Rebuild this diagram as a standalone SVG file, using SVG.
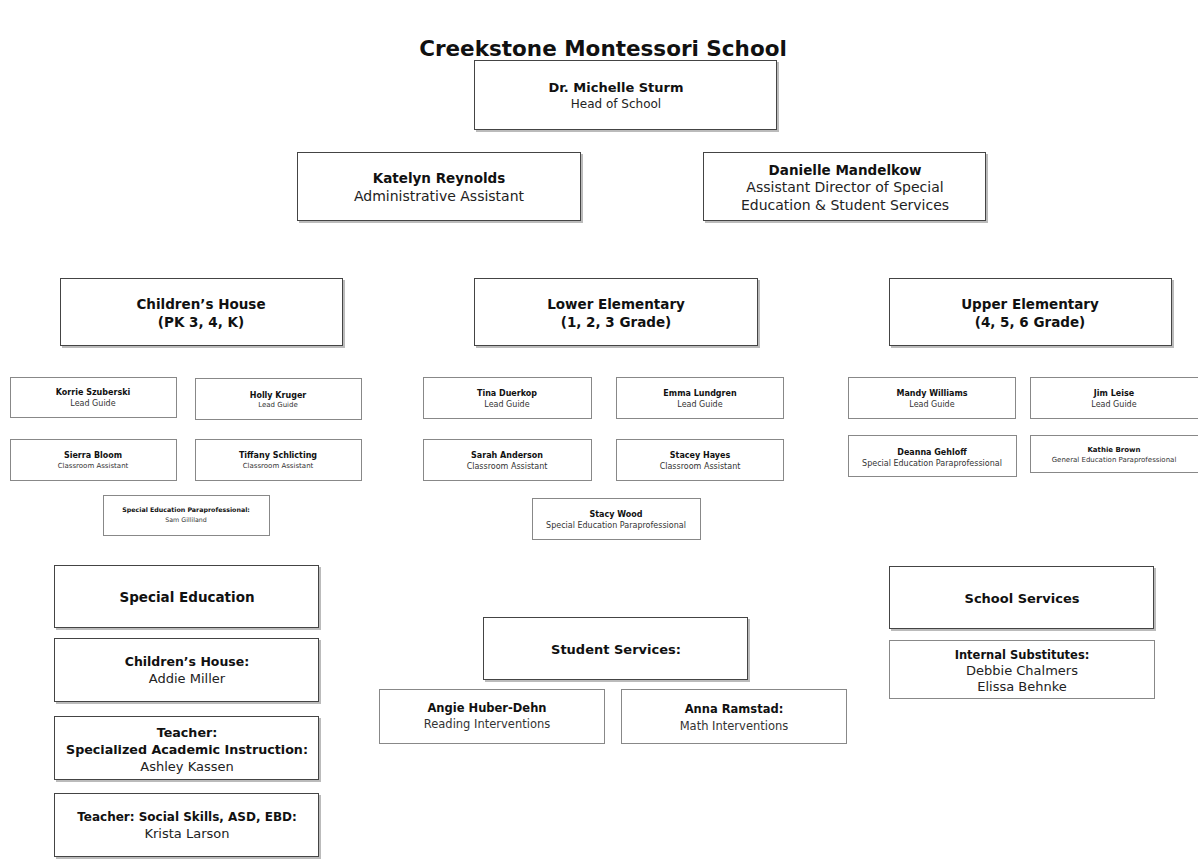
<svg xmlns="http://www.w3.org/2000/svg" width="1198" height="859" viewBox="0 0 1198 859">
<style>
text{font-family:"DejaVu Sans","Lato",sans-serif;fill:#111;text-anchor:middle}
.box{fill:#fff;stroke:#444;stroke-width:1}
.sbox{fill:#fff;stroke:#888;stroke-width:1}
.sh{fill:#bbb}
.t{font-size:21.5px;font-weight:bold}
.n14{font-size:13px;font-weight:bold}
.s12{font-size:12px;fill:#222}
.n15{font-size:14px;font-weight:bold}
.n135{font-size:13.5px;font-weight:bold}
.s14{font-size:14px;fill:#222}
.n9{font-size:8px;font-weight:bold}
.s8{font-size:8px;fill:#333}
.s13{font-size:13px;fill:#222}
</style>
<rect width="1198" height="859" fill="#fff"/>
<text class="t" x="603" y="56">Creekstone Montessori School</text>

<g id="head"><rect class="sh" x="476" y="62" width="303" height="70"/><rect class="box" x="474.5" y="60.5" width="302" height="69"/><text class="n14" x="616" y="92">Dr. Michelle Sturm</text><text class="s12" x="616" y="108">Head of School</text></g>
<g id="katelyn"><rect class="sh" x="299" y="154" width="284" height="69"/><rect class="box" x="297.5" y="152.5" width="283" height="68"/><text class="n135" x="439" y="183">Katelyn Reynolds</text><text class="s14" x="439" y="201">Administrative Assistant</text></g>
<g id="danielle"><rect class="sh" x="705" y="154" width="283" height="69"/><rect class="box" x="703.5" y="152.5" width="282" height="68"/><text class="n135" x="845" y="175">Danielle Mandelkow</text><text class="s14" x="845" y="192">Assistant Director of Special</text><text class="s14" x="845" y="210">Education &amp; Student Services</text></g>

<g id="childrens-house"><rect class="sh" x="62" y="280" width="283" height="68"/><rect class="box" x="60.5" y="278.5" width="282" height="67"/><text class="n135" x="201" y="309">Children’s House</text><text class="n135" x="201" y="327">(PK 3, 4, K)</text></g>
<g id="lower-elementary"><rect class="sh" x="476" y="280" width="284" height="68"/><rect class="box" x="474.5" y="278.5" width="283" height="67"/><text class="n135" x="616" y="309">Lower Elementary</text><text class="n135" x="616" y="327">(1, 2, 3 Grade)</text></g>
<g id="upper-elementary"><rect class="sh" x="891" y="280" width="283" height="68"/><rect class="box" x="889.5" y="278.5" width="282" height="67"/><text class="n135" x="1030" y="309">Upper Elementary</text><text class="n135" x="1030" y="327">(4, 5, 6 Grade)</text></g>

<g id="korrie"><rect class="sbox" x="10.5" y="377.5" width="166" height="40"/><text class="n9" x="93" y="395">Korrie Szuberski</text><text class="s8" x="93" y="406">Lead Guide</text></g>
<g id="holly"><rect class="sbox" x="195.5" y="378.5" width="166" height="41"/><text class="n9" x="278" y="398">Holly Kruger</text><text class="s8" x="278" y="407" style="font-size:7px">Lead Guide</text></g>
<g id="sierra"><rect class="sbox" x="10.5" y="439.5" width="166" height="41"/><text class="n9" x="93" y="458">Sierra Bloom</text><text class="s8" x="93" y="468" style="font-size:7px">Classroom Assistant</text></g>
<g id="tiffany"><rect class="sbox" x="195.5" y="439.5" width="166" height="41"/><text class="n9" x="278" y="458">Tiffany Schlicting</text><text class="s8" x="278" y="468" style="font-size:7px">Classroom Assistant</text></g>
<g id="sam"><rect class="sbox" x="103.5" y="495.5" width="166" height="40"/><text class="n9" x="186" y="512" style="font-size:6.3px">Special Education Paraprofessional:</text><text class="s8" x="186" y="522" style="font-size:6.3px">Sam Gilliland</text></g>

<g id="tina"><rect class="sbox" x="423.5" y="377.5" width="168" height="41"/><text class="n9" x="507" y="396">Tina Duerkop</text><text class="s8" x="507" y="407">Lead Guide</text></g>
<g id="emma"><rect class="sbox" x="616.5" y="377.5" width="167" height="41"/><text class="n9" x="700" y="396">Emma Lundgren</text><text class="s8" x="700" y="407">Lead Guide</text></g>
<g id="sarah"><rect class="sbox" x="423.5" y="439.5" width="168" height="41"/><text class="n9" x="507" y="458">Sarah Anderson</text><text class="s8" x="507" y="469">Classroom Assistant</text></g>
<g id="stacey"><rect class="sbox" x="616.5" y="439.5" width="167" height="41"/><text class="n9" x="700" y="458">Stacey Hayes</text><text class="s8" x="700" y="469">Classroom Assistant</text></g>
<g id="stacy-wood"><rect class="sbox" x="532.5" y="498.5" width="168" height="41"/><text class="n9" x="616" y="517">Stacy Wood</text><text class="s8" x="616" y="528">Special Education Paraprofessional</text></g>

<g id="mandy"><rect class="sbox" x="848.5" y="377.5" width="167" height="41"/><text class="n9" x="932" y="396">Mandy Williams</text><text class="s8" x="932" y="407">Lead Guide</text></g>
<g id="jim"><rect class="sbox" x="1030.5" y="377.5" width="168" height="41"/><text class="n9" x="1114" y="396">Jim Leise</text><text class="s8" x="1114" y="407">Lead Guide</text></g>
<g id="deanna"><rect class="sbox" x="848.5" y="435.5" width="168" height="41"/><text class="n9" x="932" y="455">Deanna Gehloff</text><text class="s8" x="932" y="466">Special Education Paraprofessional</text></g>
<g id="kathie"><rect class="sbox" x="1030.5" y="435.5" width="168" height="37"/><text class="n9" x="1114" y="452" style="font-size:7px">Kathie Brown</text><text class="s8" x="1114" y="462" style="font-size:7px">General Education Paraprofessional</text></g>

<g id="special-education"><rect class="sh" x="56" y="567" width="265" height="63"/><rect class="box" x="54.5" y="565.5" width="264" height="62"/><text class="n135" x="187" y="602">Special Education</text></g>
<g id="se-childrens-house"><rect class="sh" x="56" y="640" width="265" height="64"/><rect class="box" x="54.5" y="638.5" width="264" height="63"/><text class="n14" x="187" y="666" style="font-size:12.5px">Children’s House:</text><text class="s13" x="187" y="683">Addie Miller</text></g>
<g id="se-sai"><rect class="sh" x="56" y="718" width="265" height="64"/><rect class="box" x="54.5" y="716.5" width="264" height="63"/><text class="n14" x="187" y="737" style="font-size:12.7px">Teacher:</text><text class="n14" x="187" y="754" style="font-size:12.7px">Specialized Academic Instruction:</text><text class="s13" x="187" y="771">Ashley Kassen</text></g>
<g id="se-social"><rect class="sh" x="56" y="795" width="265" height="64"/><rect class="box" x="54.5" y="793.5" width="264" height="63"/><text class="n14" x="187" y="821" style="font-size:12px">Teacher: Social Skills, ASD, EBD:</text><text class="s13" x="187" y="838">Krista Larson</text></g>

<g id="student-services"><rect class="sh" x="485" y="619" width="265" height="63"/><rect class="box" x="483.5" y="617.5" width="264" height="62"/><text class="n14" x="616" y="654">Student Services:</text></g>
<g id="angie"><rect class="sbox" x="379.5" y="689.5" width="225" height="54"/><text class="n9" x="487" y="712" style="font-size:11.5px">Angie Huber-Dehn</text><text class="s8" x="487" y="728" style="font-size:11.5px">Reading Interventions</text></g>
<g id="anna"><rect class="sbox" x="621.5" y="689.5" width="225" height="54"/><text class="n9" x="734" y="713" style="font-size:11.5px">Anna Ramstad:</text><text class="s8" x="734" y="730" style="font-size:11.5px">Math Interventions</text></g>

<g id="school-services"><rect class="sh" x="891" y="568" width="265" height="63"/><rect class="box" x="889.5" y="566.5" width="264" height="62"/><text class="n14" x="1022" y="603">School Services</text></g>
<g id="internal-substitutes"><rect class="sbox" x="889.5" y="640.5" width="265" height="58"/><text class="n14" x="1022" y="659" style="font-size:11.5px">Internal Substitutes:</text><text class="s13" x="1022" y="675">Debbie Chalmers</text><text class="s13" x="1022" y="691">Elissa Behnke</text></g>

<g id="connectors"></g>
</svg>
